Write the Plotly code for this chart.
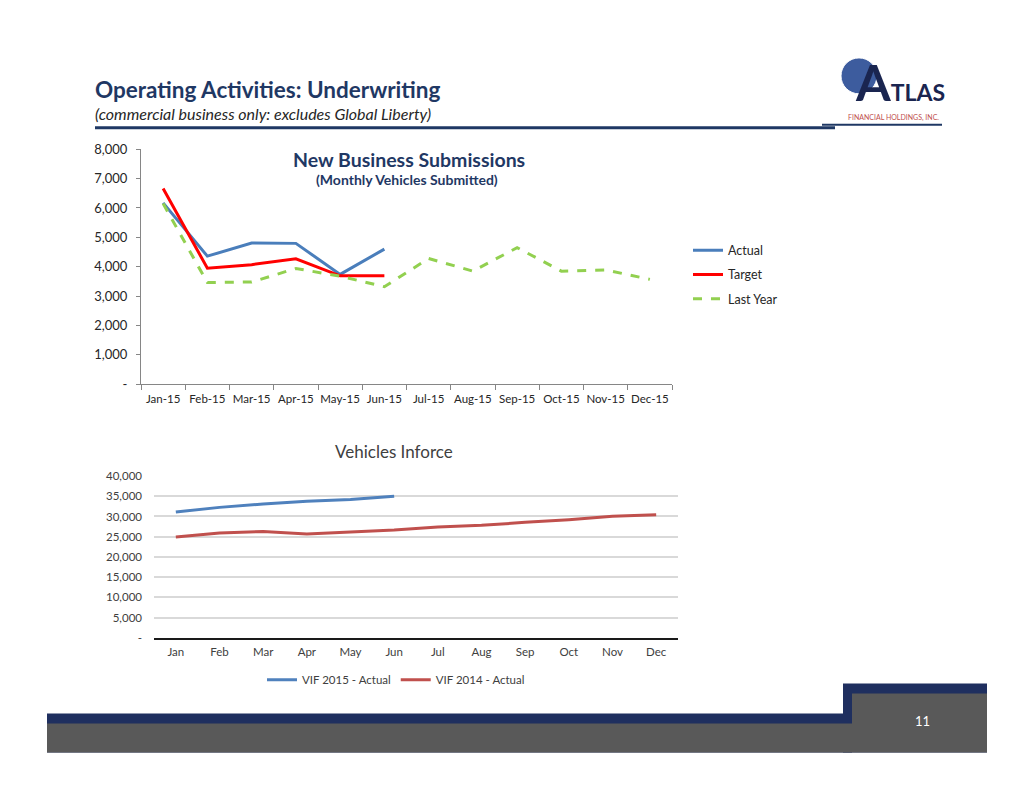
import plotly.graph_objects as go

# chart data
months_nb = ["Jan-15", "Feb-15", "Mar-15", "Apr-15", "May-15", "Jun-15",
             "Jul-15", "Aug-15", "Sep-15", "Oct-15", "Nov-15", "Dec-15"]
actual = [6175, 4360, 4805, 4795, 3740, 4600]
target = [6660, 3950, 4070, 4270, 3690, 3690]
last_year = [6150, 3460, 3480, 3940, 3680, 3320, 4280, 3850, 4650, 3850, 3890, 3570]

months_vif = ["Jan", "Feb", "Mar", "Apr", "May", "Jun",
              "Jul", "Aug", "Sep", "Oct", "Nov", "Dec"]
vif_2015 = [31100, 32250, 33100, 33750, 34200, 35000]
vif_2014 = [24900, 25900, 26300, 25650, 26150, 26650, 27400, 27800, 28550, 29200, 30050, 30450]

nb_ticks = [0, 1000, 2000, 3000, 4000, 5000, 6000, 7000, 8000]
vif_ticks = [0, 5000, 10000, 15000, 20000, 25000, 30000, 35000, 40000]

W, H = 1034, 799
NAVY = "#1F3864"
FONT = "Lato, sans-serif"


# page pixel -> paper coords (compensates for the page margin seen in the render)
def px(x):
    return (x - 8) / W


def py(y):
    return 1 - ((y - 14) / 0.982) / H


def fmt(v):
    return "-" if v == 0 else f"{v:,}"


fig = go.Figure()

# top chart: new business submissions
fig.add_trace(go.Scatter(x=months_nb[:len(actual)], y=actual, name="Actual", mode="lines",
                         line=dict(color="#4A7EBB", width=3), legendgroup="a"))
fig.add_trace(go.Scatter(x=months_nb[:len(target)], y=target, name="Target", mode="lines",
                         line=dict(color="#FF0000", width=3), legendgroup="b"))
fig.add_trace(go.Scatter(x=months_nb, y=last_year, name="Last Year", mode="lines",
                         line=dict(color="#92D050", width=3, dash="dash"), legendgroup="c"))

# bottom chart: vehicles inforce
fig.add_trace(go.Scatter(x=months_vif[:len(vif_2015)], y=vif_2015, name="VIF 2015 - Actual",
                         mode="lines", line=dict(color="#4F81BD", width=3),
                         xaxis="x2", yaxis="y2", legend="legend2"))
fig.add_trace(go.Scatter(x=months_vif, y=vif_2014, name="VIF 2014 - Actual",
                         mode="lines", line=dict(color="#C0504D", width=3),
                         xaxis="x2", yaxis="y2", legend="legend2"))

fig.update_layout(
    width=W, height=H,
    margin=dict(l=0, r=0, t=0, b=0),
    paper_bgcolor="white", plot_bgcolor="white",
    font=dict(family=FONT, size=12, color="#262626"),
    xaxis=dict(domain=[px(141), px(672)], anchor="y", type="category",
               range=[-0.5, 11.5], showline=True, linecolor="#868686",
               ticks="outside", tickson="boundaries", ticklen=5, tickcolor="#868686",
               showgrid=False, tickangle=0, ticklabelstandoff=4,
               tickfont=dict(size=11.5, color="#262626")),
    yaxis=dict(domain=[py(383), py(147.5)], anchor="x", range=[0, 8000],
               tickvals=nb_ticks, ticktext=[fmt(v) for v in nb_ticks],
               showline=True, linecolor="#868686", ticks="outside", ticklen=4,
               tickcolor="#868686", showgrid=False, zeroline=False,
               ticklabelstandoff=6, tickfont=dict(size=13, color="#262626")),
    xaxis2=dict(domain=[px(154), px(678)], anchor="y2", type="category",
                range=[-0.5, 11.5], showline=True, linecolor="#1a1a1a", linewidth=2,
                ticks="", showgrid=False, tickangle=0, ticklabelstandoff=2,
                tickfont=dict(size=11.5, color="#404040")),
    yaxis2=dict(domain=[py(637), py(475)], anchor="x2", range=[0, 40000],
                tickvals=vif_ticks, ticktext=[fmt(v) for v in vif_ticks],
                showline=False, showgrid=True, gridcolor="#D9D9D9", gridwidth=1.5,
                zeroline=False, ticks="", ticklabelstandoff=11,
                tickfont=dict(size=11.5, color="#404040")),
    legend=dict(x=px(688), y=py(234), xanchor="left", yanchor="top",
                orientation="v", tracegroupgap=5, itemwidth=30,
                font=dict(size=12.5, color="#262626"), bgcolor="rgba(0,0,0,0)"),
    legend2=dict(x=px(396), y=py(679), xanchor="center", yanchor="middle",
                 orientation="h", font=dict(size=11.5, color="#404040"),
                 bgcolor="rgba(0,0,0,0)"),
)

shapes = [
    # header rule
    dict(type="line", x0=px(95), x1=px(835), y0=py(126), y1=py(126),
         line=dict(color=NAVY, width=3)),
    # logo rule and globe
    dict(type="line", x0=px(822), x1=px(942), y0=py(123), y1=py(123),
         line=dict(color=NAVY, width=2)),
    dict(type="circle", x0=px(841), x1=px(877), y0=py(92), y1=py(56),
         fillcolor="#3D5C9E", line=dict(color="white", width=1)),
    # footer
    dict(type="rect", x0=px(47), x1=px(852), y0=py(752), y1=py(713),
         fillcolor="#1F2F5F", line=dict(width=0)),
    dict(type="rect", x0=px(843), x1=px(987), y0=py(752), y1=py(683),
         fillcolor="#1F2F5F", line=dict(width=0)),
    dict(type="rect", x0=px(47), x1=px(852), y0=py(752), y1=py(723),
         fillcolor="#595959", line=dict(width=0)),
    dict(type="rect", x0=px(852), x1=px(987), y0=py(752), y1=py(693),
         fillcolor="#595959", line=dict(width=0)),
]
for s in shapes:
    s["xref"] = "paper"
    s["yref"] = "paper"
    s["layer"] = "below"
fig.update_layout(shapes=shapes)


def note(text, x, y, size, color, xanchor="left", bold=False, italic=False):
    if bold:
        text = f"<b>{text}</b>"
    if italic:
        text = f"<i>{text}</i>"
    fig.add_annotation(text=text, x=px(x), y=py(y), xref="paper", yref="paper",
                       xanchor=xanchor, yanchor="middle", showarrow=False,
                       font=dict(family=FONT, size=size, color=color))


note("Operating Activities: Underwriting", 93, 88, 22.5, NAVY, bold=True)
note("(commercial business only: excludes Global Liberty)", 93, 112, 16, "#262626", italic=True)
note("New Business Submissions", 409, 158, 19.5, NAVY, xanchor="center", bold=True)
note("(Monthly Vehicles Submitted)", 407, 178, 14, NAVY, xanchor="center", bold=True)
note("Vehicles Inforce", 394, 450, 17, "#404040", xanchor="center")
# logo lettering: big A, rest of the name on the same baseline
note("<span style='font-size:50px'>A</span>TLAS", 900, 80, 23, "#1A2550",
     xanchor="center", bold=True)
note("FINANCIAL HOLDINGS, INC.", 893, 116, 7, "#C0504D", xanchor="center")
note("11", 922, 720, 13, "white", xanchor="center")

fig.write_html("out.html")
